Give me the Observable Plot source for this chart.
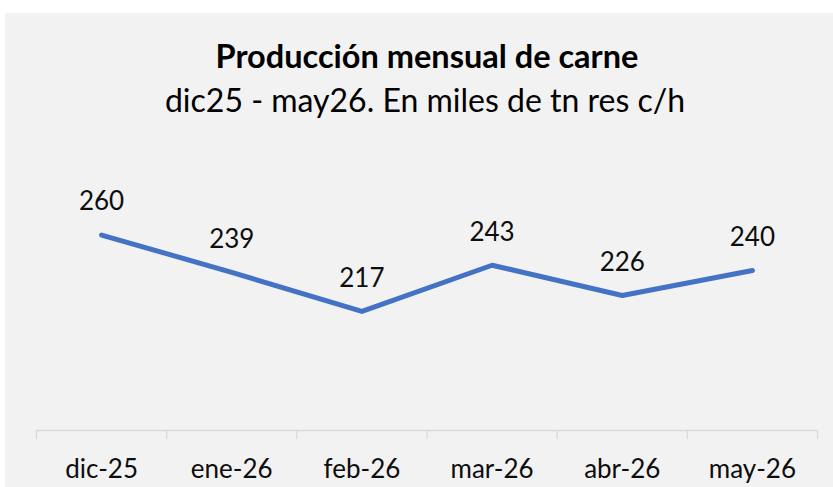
<!DOCTYPE html>
<html>
<head>
<meta charset="utf-8">
<script src="https://cdn.jsdelivr.net/npm/d3@7"></script>
<script src="https://cdn.jsdelivr.net/npm/@observablehq/plot@0.6"></script>
<style>
  body { margin: 0; background: #ffffff; width: 833px; height: 487px; overflow: hidden; }
  #c { position: absolute; left: 5px; top: 13px; width: 828px; height: 474px; background: #f2f2f2; font-family: Lato, sans-serif; color: #000; }
  #t { position: absolute; top: 27px; left: 8px; width: 100%; text-align: center; font-weight: bold; font-size: 32.5px; line-height: 32px; }
  #s { position: absolute; top: 71px; left: 6px; width: 100%; text-align: center; font-size: 32px; line-height: 32px; }
  #p { position: absolute; top: 120px; left: 0; }
</style>
</head>
<body>
<div id="c">
  <div id="t">Producción mensual de carne</div>
  <div id="s">dic25 - may26. En miles de tn res c/h</div>
  <div id="p"></div>
</div>
<script>
const months = ["dic-25", "ene-26", "feb-26", "mar-26", "abr-26", "may-26"];
const production = [260, 239, 217, 243, 226, 240];

const data = months.map((m, i) => ({i, month: m, value: production[i]}));
const boundaries = d3.range(months.length + 1).map(k => k - 0.5);

const chart = Plot.plot({
  width: 828,
  height: 354,
  marginLeft: 31,
  marginRight: 16,
  marginTop: 66,
  marginBottom: 57,
  style: {background: "transparent", fontFamily: "Lato, sans-serif", color: "#000"},
  x: {type: "linear", domain: [-0.5, months.length - 0.5], label: null},
  y: {domain: [150, 280], axis: null, label: null},
  marks: [
    Plot.ruleY([150], {stroke: "#d9d9d9", strokeWidth: 1.3}),
    Plot.axisX({ticks: boundaries, tickFormat: () => "", tickSize: 9, stroke: "#d9d9d9", strokeOpacity: 1, strokeWidth: 1.3, label: null}),
    Plot.axisX({ticks: d3.range(months.length), tickFormat: i => months[i], tickSize: 0, tickPadding: 29, fontSize: 26, fill: "#0d0d0d", label: null}),
    Plot.line(data, {x: "i", y: "value", stroke: "#4472c4", strokeWidth: 5, strokeLinecap: "round", strokeLinejoin: "round"}),
    Plot.text(data, {x: "i", y: "value", text: d => String(d.value), dy: -33, fontSize: 26, fill: "#0d0d0d"})
  ]
});
document.getElementById("p").appendChild(chart);
</script>
</body>
</html>
